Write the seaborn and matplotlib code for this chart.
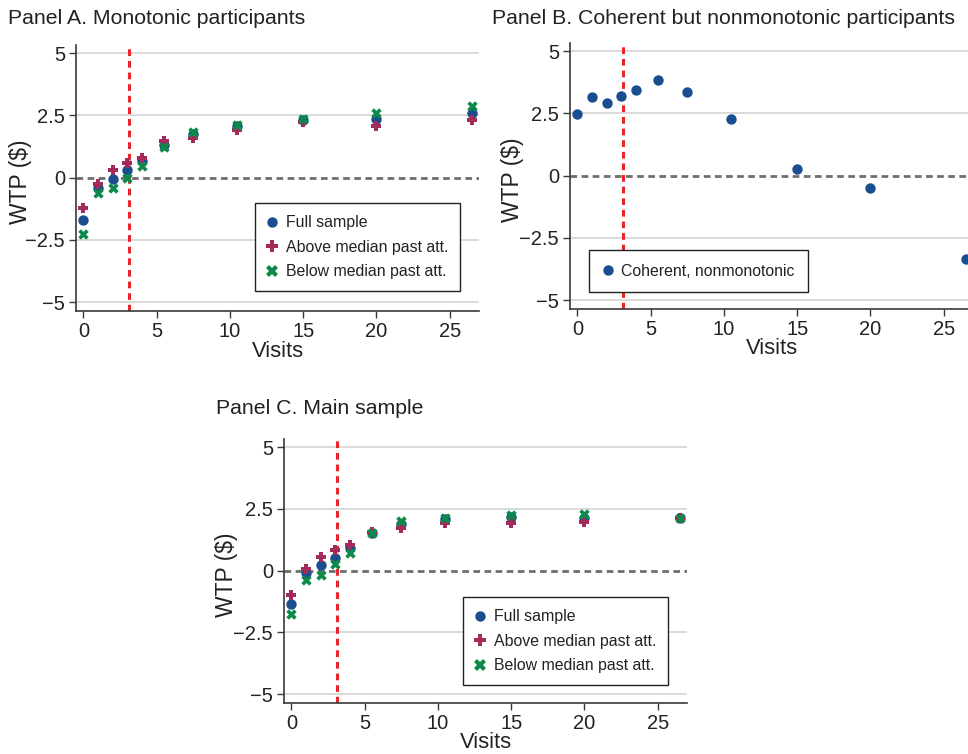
import numpy as np
import pandas as pd
import matplotlib
matplotlib.use("Agg")
import matplotlib.pyplot as plt
import seaborn as sns
from matplotlib.lines import Line2D

# ---------------- data ----------------
visits = [0, 1, 2, 3, 4, 5.5, 7.5, 10.5, 15, 20, 26.5]
cutoff_visit = 3.15

series_names = ["Full sample", "Above median past att.", "Below median past att."]

a_full = [-1.71, -0.42, -0.04, 0.29, 0.67, 1.32, 1.74, 2.08, 2.33, 2.34, 2.60]
a_above = [-1.21, -0.24, 0.32, 0.59, 0.79, 1.47, 1.59, 1.90, 2.23, 2.07, 2.30]
a_below = [-2.25, -0.62, -0.40, -0.01, 0.45, 1.23, 1.83, 2.13, 2.34, 2.61, 2.88]

b_name = "Coherent, nonmonotonic"
b_vals = [2.49, 3.15, 2.90, 3.18, 3.45, 3.83, 3.35, 2.26, 0.27, -0.48, -3.34]

c_full = [-1.37, -0.09, 0.21, 0.53, 0.91, 1.54, 1.88, 2.08, 2.16, 2.12, 2.12]
c_above = [-0.99, 0.08, 0.57, 0.82, 1.02, 1.58, 1.74, 1.94, 1.94, 1.96, 2.12]
c_below = [-1.74, -0.36, -0.17, 0.27, 0.73, 1.51, 2.01, 2.14, 2.25, 2.28, 2.12]

y_ticks = [-5, -2.5, 0, 2.5, 5]
y_ticklabels = ["\u22125", "\u22122.5", "0", "2.5", "5"]
x_ticks = [0, 5, 10, 15, 20, 25]

titles = ["Panel A. Monotonic participants",
          "Panel B. Coherent but nonmonotonic participants",
          "Panel C. Main sample"]

# ---------------- style ----------------
sns.set_theme(style="white")
plt.rcParams["font.family"] = ["Liberation Sans", "DejaVu Sans"]

C_BLUE = "#1a4e8e"
C_MAG = "#a52a5c"
C_GREEN = "#0d8a4b"
palette = {series_names[0]: C_BLUE, series_names[1]: C_MAG, series_names[2]: C_GREEN, b_name: C_BLUE}
markers = {series_names[0]: "o", series_names[1]: "P", series_names[2]: "X", b_name: "o"}
sizes_pt = {"o": 56, "P": 62, "X": 56}


def long_df(vals_list, names):
    rows = []
    for name, vals in zip(names, vals_list):
        for x, y in zip(visits, vals):
            rows.append({"Visits": x, "WTP": y, "Series": name})
    return pd.DataFrame(rows)


fig = plt.figure(figsize=(9.68, 7.54), dpi=100)
W, H = 968.0, 754.0


def ax_at(l, t, r, b):
    return fig.add_axes([l / W, 1 - b / H, (r - l) / W, (b - t) / H])


axA = ax_at(76, 45, 479, 311)
axB = ax_at(570, 43, 973, 309)
axC = ax_at(284, 439, 687, 703)

TICK_FS = 14.5
XLAB_FS = 15.8
YLAB_FS = 16.5
LEG_FS = 11.4


def style_axis(ax, ylab_x, ylab_y, xlab_y):
    ax.set_xlim(-0.5, 27)
    ax.set_ylim(-5.36, 5.33)
    for yv in [-5, -2.5, 2.5, 5]:
        ax.axhline(yv, color="#d4d4d4", lw=1.2, zorder=0)
    ax.axhline(0, color="#6e6e6e", lw=2.0, ls=(0, (2.4, 1.6)), zorder=1)
    ax.axvline(cutoff_visit, color="#e8252b", lw=2.2, ls=(0, (2.2, 1.6)), zorder=1)
    ax.set_yticks(y_ticks)
    ax.set_yticklabels(y_ticklabels)
    ax.set_xticks(x_ticks)
    for s in ["top", "right"]:
        ax.spines[s].set_visible(False)
    for s in ["left", "bottom"]:
        ax.spines[s].set_color("#3a3a3a")
        ax.spines[s].set_linewidth(1.2)
    ax.tick_params(axis="both", which="both", direction="out", length=5, width=1.0,
                   color="#3a3a3a", labelsize=TICK_FS, labelcolor="#222222", pad=3,
                   left=True, bottom=True)
    ax.set_xlabel("Visits", fontsize=XLAB_FS, color="#222222")
    ax.set_ylabel("WTP ($)", fontsize=YLAB_FS, color="#222222")
    ax.xaxis.set_label_coords(0.501, xlab_y)
    ax.yaxis.set_label_coords(ylab_x, ylab_y)
    ax.xaxis.label.set_va("center")
    ax.yaxis.label.set_va("center")
    ax.yaxis.label.set_ha("center")
    ax.set_facecolor("white")


def draw(ax, df, names):
    for name in names:
        sub = df[df["Series"] == name]
        m = markers[name]
        sns.scatterplot(data=sub, x="Visits", y="WTP", ax=ax, color=palette[name],
                        marker=m, s=sizes_pt[m], linewidth=0, legend=False, zorder=3)


def add_legend(ax, names, anchor, pad=0.75):
    handles = []
    for name in names:
        m = markers[name]
        handles.append(Line2D([], [], ls="none", marker=m, color=palette[name],
                              markeredgewidth=0, markersize=7.5 if m == "o" else 8.5))
    leg = ax.legend(handles, names, loc="lower left", bbox_to_anchor=anchor,
                    bbox_transform=fig.transFigure, frameon=True, fancybox=False,
                    fontsize=LEG_FS, handlelength=0.7, handletextpad=0.5,
                    borderpad=pad, labelspacing=0.6, borderaxespad=0)
    fr = leg.get_frame()
    fr.set_edgecolor("#222222")
    fr.set_linewidth(1.0)
    fr.set_alpha(1)
    for t in leg.get_texts():
        t.set_color("#222222")
    return leg


dfA = long_df([a_full, a_above, a_below], series_names)
dfB = long_df([b_vals], [b_name])
dfC = long_df([c_full, c_above, c_below], series_names)

style_axis(axA, (20 - 76) / 403, (311 - 182) / 266, -(351 - 311) / 266)
style_axis(axB, (512 - 570) / 403, (309 - 180) / 266, -(349 - 309) / 266)
style_axis(axC, (227 - 284) / 403, (703 - 575) / 264, -(743 - 703) / 264)
draw(axA, dfA, series_names)
draw(axB, dfB, [b_name])
draw(axC, dfC, series_names)

add_legend(axA, series_names, (255 / W, 1 - 291 / H))
add_legend(axB, [b_name], (589 / W, 1 - 292 / H), pad=0.85)
add_legend(axC, series_names, (463 / W, 1 - 685 / H))

TITLE_FS = 15.3
title_font = ["Liberation Sans", "DejaVu Sans"]
fig.text(8 / W, 1 - 18 / H, titles[0], fontsize=TITLE_FS, va="center", ha="left",
         color="#222222", family=title_font)
fig.text(492 / W, 1 - 18 / H, titles[1], fontsize=TITLE_FS, va="center", ha="left",
         color="#222222", family=title_font)
fig.text(216 / W, 1 - 408 / H, titles[2], fontsize=TITLE_FS, va="center", ha="left",
         color="#222222", family=title_font)

fig.savefig("out.png", dpi=100, facecolor="white")
